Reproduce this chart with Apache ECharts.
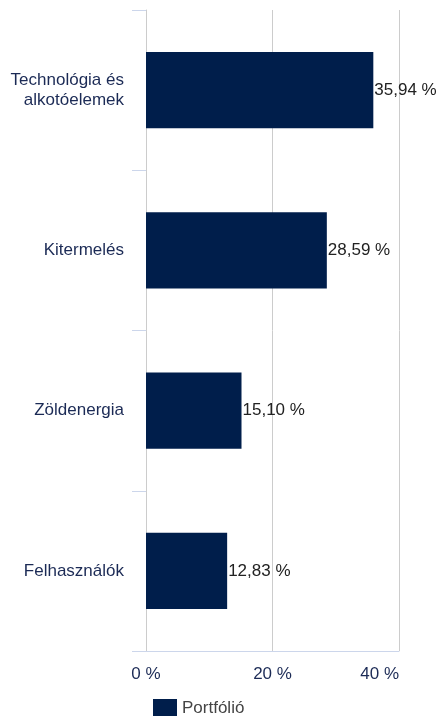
<!DOCTYPE html>
<html><head><meta charset="utf-8">
<script src="https://cdn.jsdelivr.net/npm/echarts@6/dist/echarts.min.js"></script>
<style>html,body{margin:0;padding:0;background:#fff}#c{width:437px;height:716px}</style>
</head><body><div id="c"></div>
<script>
var categories = ["Technológia és\nalkotóelemek", "Kitermelés", "Zöldenergia", "Felhasználók"];
var values = [35.94, 28.59, 15.10, 12.83];
var seriesName = "Portfólió";
var xTicks = [0, 20, 40];

var FONT = "'Liberation Sans', Arial, sans-serif";
var chart = echarts.init(document.getElementById('c'));
chart.setOption({
  animation: false,
  textStyle: {fontFamily: FONT},
  grid: {left: 146, right: 38, top: 10, bottom: 65, containLabel: false},
  legend: {
    data: [seriesName], left: 153, top: 699, padding: 0, itemWidth: 24, itemHeight: 18, itemGap: 8,
    icon: 'rect',
    textStyle: {fontFamily: FONT, fontSize: 17, color: '#444444'}
  },
  xAxis: {
    type: 'value', min: xTicks[0], max: xTicks[xTicks.length - 1], interval: 20,
    axisLine: {show: true, lineStyle: {color: '#ccd6eb', width: 1}},
    axisTick: {show: false},
    splitLine: {show: true, lineStyle: {color: '#cccccc', width: 1}},
    axisLabel: {margin: 15, fontSize: 17, color: '#1b2a55', fontFamily: FONT, alignMaxLabel: 'right',
      formatter: function (v) { return v + ' %'; }}
  },
  yAxis: {
    type: 'category', inverse: true, data: categories,
    axisLine: {show: true, lineStyle: {color: '#cccccc'}},
    axisTick: {show: true, length: 14, lineStyle: {color: '#ccd6eb'}},
    axisLabel: {margin: 22, fontSize: 17, color: '#1b2a55', fontFamily: FONT, lineHeight: 20, align: 'right'}
  },
  series: [{
    name: seriesName, type: 'bar', data: values, barWidth: '47.5%',
    itemStyle: {color: '#001e4b'},
    label: {show: true, position: 'right', distance: 1, fontSize: 17, color: '#222222', fontFamily: FONT,
      formatter: function (p) { return p.value.toFixed(2).replace('.', ',') + ' %'; }}
  }]
});
</script></body></html>
